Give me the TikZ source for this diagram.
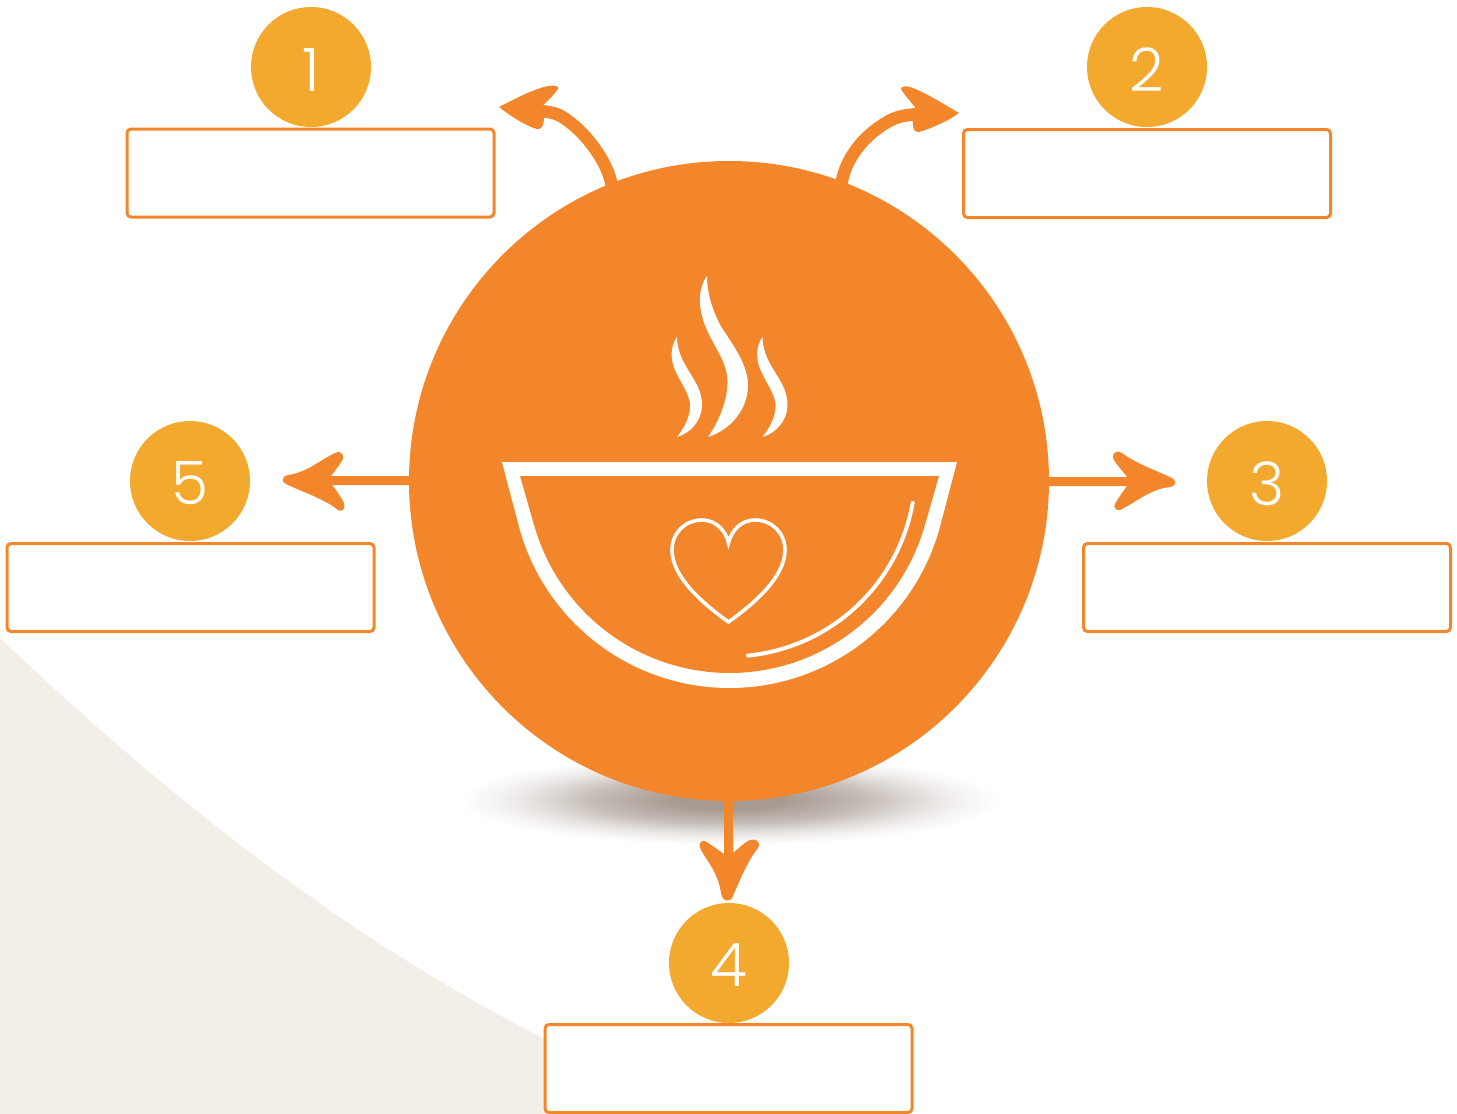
\documentclass[tikz,border=0pt]{standalone}
\usepackage{fontspec}
\newfontfamily\digitfont{Poppins Light}
\definecolor{hubor}{HTML}{F3862B}
\definecolor{goldc}{HTML}{F3A92D}
\definecolor{beigec}{HTML}{F3EEE8}
\definecolor{shadowc}{HTML}{A79A91}
\pgfdeclareradialshading{shadowfade}{\pgfpoint{0bp}{0bp}}{color(0bp)=(shadowc); color(5bp)=(shadowc); color(13bp)=(shadowc!64!white); color(17bp)=(shadowc!36!white); color(21bp)=(shadowc!14!white); color(25bp)=(white); color(50bp)=(white)}
\newcommand\dgt[1]{\raisebox{0pt}[\dimexpr\height+5pt\relax]{#1}}
\tikzset{
  numdisc/.style={circle,fill=goldc,minimum size=120pt,inner sep=0pt,text=white,font=\digitfont\fontsize{60}{60}\selectfont},
  labelbox/.style={draw=hubor,fill=white,line width=3pt,rounded corners=4pt,minimum width=367pt,minimum height=88pt,inner sep=0pt},
  hubdisc/.style={circle,fill=hubor,minimum size=640pt,inner sep=0pt},
  arrowshape/.style={fill=hubor},
  curvedshaft/.style={draw=hubor,line width=12.5pt},
  steam/.style={fill=white}
}
\begin{document}
\begin{tikzpicture}[x=1pt,y=-1pt]
\useasboundingbox (0,0) rectangle (1457,1114);
% background sweep
\fill[beigec] (0,638) .. controls (170,800) and (350,940) .. (543,1038) -- (600,1067) -- (600,1114) -- (0,1114) -- cycle;
% shadow
\path[shading=shadowfade] (459,755) rectangle (999,845);
% connectors
\draw[curvedshaft] (612,190) .. controls (612,170) and (590,135) .. (564,118) .. controls (558,114) and (552,112) .. (540,111);
\fill[arrowshape] (543,105) .. controls (549,100) and (555,93) .. (558,89) .. controls (559,86) and (555,85) .. (549,86) .. controls (535,88) and (515,99) .. (499,107) .. controls (510,116) and (528,127) .. (537,129) .. controls (542,130) and (544,124) .. (544,118) -- cycle;
\draw[curvedshaft] (841,190) .. controls (842,160) and (866,132) .. (893,119) .. controls (900,116) and (907,115) .. (918,114);
\fill[arrowshape] (915,107) .. controls (910,101) and (903,93) .. (901,89) .. controls (901,86) and (906,86) .. (910,87) .. controls (925,92) and (945,105) .. (959,113) .. controls (948,121) and (930,129) .. (919,132) .. controls (914,133) and (912,127) .. (913,121) -- cycle;
\fill[arrowshape] (1045,477) -- (1127,477) .. controls (1122,470) and (1115,463) .. (1113,458) .. controls (1112,452) and (1118,450) .. (1122,453) .. controls (1135,463) and (1155,470) .. (1172,478) .. controls (1177,481) and (1176,486) .. (1170,487) .. controls (1150,489) and (1135,503) .. (1120,510) .. controls (1116,511) and (1113,507) .. (1115,504) .. controls (1118,498) and (1123,492) .. (1127,486) -- (1045,486) -- cycle;
\fill[arrowshape] (415,476) -- (331,476) .. controls (335,471) and (340,464) .. (343,459) .. controls (344,453) and (339,450) .. (335,453) .. controls (320,460) and (308,472) .. (288,475) .. controls (282,476) and (281,482) .. (286,484) .. controls (300,491) and (325,499) .. (338,510) .. controls (342,513) and (346,508) .. (344,503) .. controls (341,497) and (336,490) .. (332,485) -- (415,485) -- cycle;
\fill[arrowshape] (724,795) -- (724,854) .. controls (717,849) and (710,844) .. (705,841) .. controls (700,840) and (698,845) .. (701,850) .. controls (708,862) and (718,873) .. (721,893) .. controls (722,902) and (731,903) .. (733,896) .. controls (740,880) and (748,860) .. (758,848) .. controls (761,842) and (756,838) .. (750,840) .. controls (745,842) and (739,848) .. (733,853) -- (733,795) -- cycle;
% hub
\node[hubdisc] (hub) at (729,481) {};
% bowl
\fill[white] (502,462) -- plot[domain=-76.2:76.2,samples=90] ({729.5+218*sin(\x)},{470+218*cos(\x)}) -- (957,462) -- cycle;
\fill[hubor] (520,476) -- plot[domain=-73.7:73.7,samples=90] ({729.5+203*sin(\x)},{470+203*cos(\x)}) -- (939,476) -- cycle;
\draw[white,line width=4pt,line cap=round] plot[domain=5.7:80,samples=70] ({729.5+186*sin(\x)},{470.5+186*cos(\x)});
% heart
\draw[white,line width=3.6pt,miter limit=10] (728.5,622) .. controls (705,605) and (672,578) .. (672,550) .. controls (672,533) and (685,520) .. (702,520) .. controls (716,520) and (726,531) .. (728.5,543) .. controls (731,531) and (741,520) .. (755,520) .. controls (772,520) and (785,533) .. (785,550) .. controls (785,578) and (752,605) .. (728.5,622) -- cycle;
% steam
\fill[steam] (707,276) .. controls (697,290) and (698,310) .. (707,330) .. controls (714,346) and (724,358) .. (727,375) .. controls (730,395) and (720,420) .. (708,437) .. controls (730,430) and (748,410) .. (748,385) .. controls (748,365) and (733,345) .. (722,328) .. controls (716,318) and (707,298) .. (707,276) -- cycle;
\fill[steam] (677,337) .. controls (670,347) and (670,360) .. (676,372) .. controls (681,383) and (688,392) .. (690,403) .. controls (691,415) and (685,427) .. (677,437) .. controls (691,433) and (702,420) .. (702,405) .. controls (702,390) and (694,380) .. (687,368) .. controls (681,358) and (677,348) .. (677,337) -- cycle;
\fill[steam,xshift=85.5pt] (677,337) .. controls (670,347) and (670,360) .. (676,372) .. controls (681,383) and (688,392) .. (690,403) .. controls (691,415) and (685,427) .. (677,437) .. controls (691,433) and (702,420) .. (702,405) .. controls (702,390) and (694,380) .. (687,368) .. controls (681,358) and (677,348) .. (677,337) -- cycle;
% numbered discs
\node[numdisc] (n1) at (311,67) {\dgt{1}};
\node[numdisc] (n2) at (1147,67) {\dgt{2}};
\node[numdisc] (n3) at (1267,481) {\dgt{3}};
\node[numdisc] (n4) at (729,963) {\dgt{4}};
\node[numdisc] (n5) at (190,481) {\dgt{5}};
% boxes
\node[labelbox] (b1) at (310.5,173) {};
\node[labelbox] (b2) at (1147,173.5) {};
\node[labelbox] (b3) at (1267,587.5) {};
\node[labelbox] (b4) at (728.5,1068.5) {};
\node[labelbox] (b5) at (190.5,587.5) {};
\end{tikzpicture}
\end{document}
